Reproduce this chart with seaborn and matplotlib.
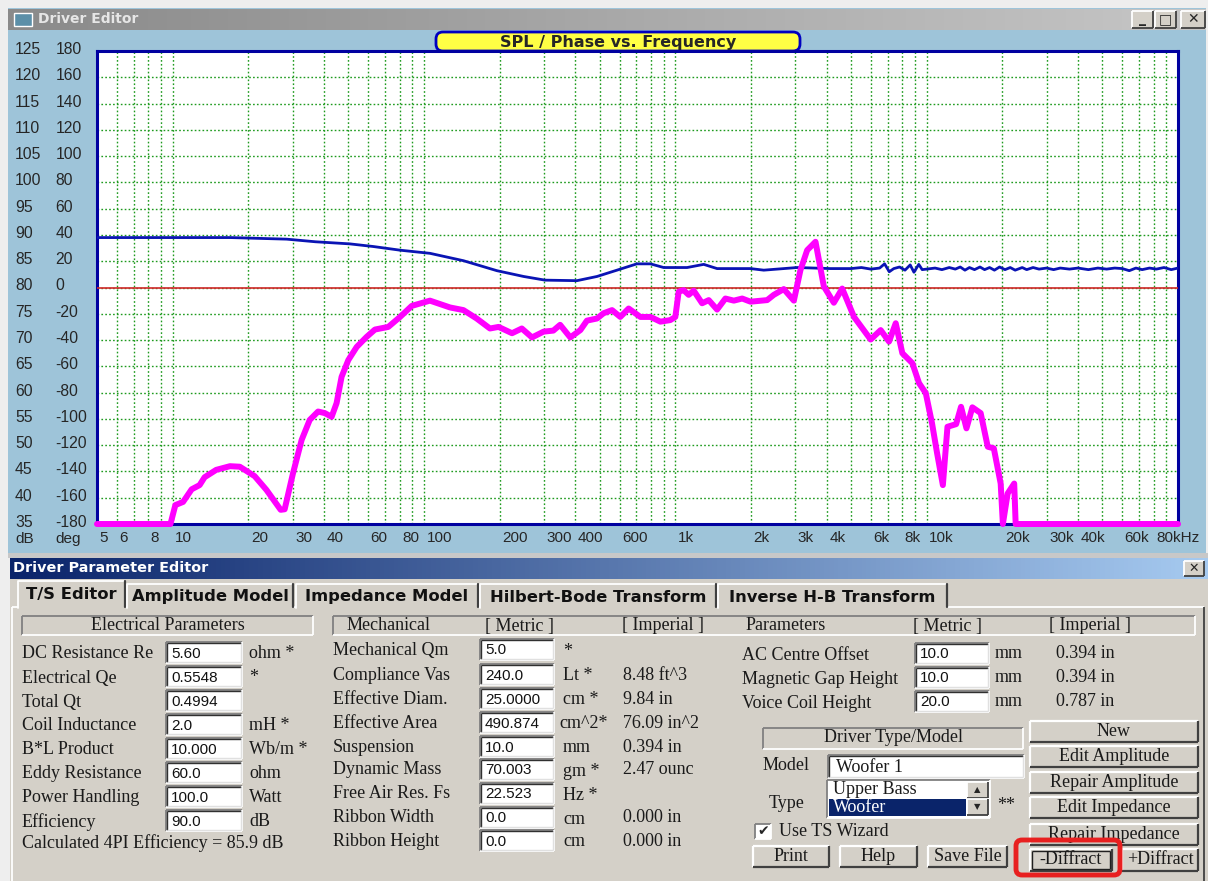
import numpy as np
import matplotlib
matplotlib.use("Agg")
import matplotlib.pyplot as plt
import matplotlib.transforms as mtransforms
from matplotlib.patches import Rectangle, FancyBboxPatch
from matplotlib.colors import LinearSegmentedColormap
from matplotlib.ticker import LogLocator, NullFormatter
import seaborn as sns

# SPL curve (magenta): frequency in Hz, level in dB
spl_freq = [5, 9.8, 10.25, 11.0, 11.9, 12.8, 13.4, 14.9, 16.9, 18.5, 21.2, 23.6, 26.9, 27.9,
            30.1, 32.6, 35.1, 37.9, 40.3, 42.9, 44.9, 47.0, 50, 54, 59.1, 63.8, 72.1, 80.3,
            89.4, 105.6, 127, 143.5, 162, 183, 198, 224, 245, 269, 299, 327, 348, 382, 419,
            445, 488, 518, 560, 604, 652, 726, 796, 872, 955, 1000, 1031, 1079, 1130, 1183,
            1278, 1358, 1466, 1582, 1709, 1845, 1991, 2319, 2464, 2701, 2962, 3146, 3346, 3612,
            3898, 4273, 4613, 5140, 5985, 6562, 7083, 7532, 8002, 8770, 9326, 9919, 10500,
            11000, 11600, 12100, 13100, 13700, 14400, 15200, 16400, 17500, 18500, 19700,
            20100, 21000, 22300, 22600, 100000]
spl_db = [35, 35, 38.6, 39.2, 41.6, 42.4, 43.9, 45.3, 46.0, 45.9, 44.1, 41.5, 37.7, 37.8,
          44.6, 51.0, 54.8, 56.4, 56.1, 55.4, 58.0, 63.0, 66.2, 68.7, 70.6, 72.0, 72.5, 74.4,
          76.5, 77.5, 76.2, 75.7, 74.1, 72.2, 72.5, 71.3, 72.2, 70.5, 71.6, 71.8, 72.9, 70.5, 71.9,
          73.7, 74.1, 75.1, 75.7, 74.4, 76.0, 74.4, 74.4, 73.5, 73.8, 74.4, 79.2, 79.5, 78.6, 79.4,
          77.0, 77.6, 75.8, 77.9, 77.5, 77.9, 77.3, 77.6, 78.6, 79.7, 77.5, 83.3, 87.1, 88.7,
          80.2, 77.1, 79.8, 74.4, 70.1, 71.9, 69.7, 73.2, 67.5, 65.6, 61.8, 59.9, 54.2,
          48.5, 42.4, 53.5, 54.0, 57.3, 53.2, 57.2, 56.1, 49.7, 49.4, 42.7,
          35, 40.8, 42.7, 35, 35]

# phase curve (blue): frequency in Hz, phase in degrees
phase_freq = [5, 17, 28.4, 37, 50.7, 62.8, 80.3, 105.7, 143.5, 195, 249, 303, 406, 488, 586,
              703, 796, 899, 1114, 1297, 1466, 1991, 2248, 3054, 4147, 5000, 5500, 6000, 6500,
              6800, 7100, 7400, 7800, 8200, 8600, 8900, 9300, 9600, 10000, 10800, 11500, 12300,
              13000, 13600, 14200, 14800, 15500, 16300, 17000, 17800, 18600, 19500, 20500,
              21500, 22500, 24000, 25000, 26500, 28000, 30000, 32000, 34000, 37000, 40000,
              44000, 48000, 52000, 56000, 60000, 64000, 68000, 72000, 77000, 82000, 88000,
              94000, 100000]
phase_deg = [38, 38, 36.8, 34.8, 33.2, 31.2, 28.4, 26, 20.4, 12.8, 8.4, 5.6, 5.2, 8.4, 13.2,
             18, 18, 15.2, 15.2, 17.6, 14.4, 14.4, 13.2, 15.2, 14.4, 14.4, 15.2, 14.0, 14.8,
             18.0, 12.0, 14.4, 15.6, 13.2, 17.2, 11.6, 17.6, 13.6, 14.0, 14.8, 13.6, 15.2,
             14.0, 15.6, 13.2, 15.2, 13.6, 15.6, 13.6, 15.2, 13.2, 15.6, 13.6,
             15.2, 13.2, 15.2, 13.6, 15.2, 14.0, 14.8, 13.6, 14.8, 14.0, 14.8,
             13.6, 14.8, 14.0, 14.8, 14.4, 12.8, 14.8, 13.6, 14.8, 14.0, 15.2,
             13.6, 14.8]

# axis ticks
freq_ticks = [5, 6, 8, 10, 20, 30, 40, 60, 80, 100, 200, 300, 400, 600, 1000, 2000, 3000,
              4000, 6000, 8000, 10000, 20000, 30000, 40000, 60000, 80000]
freq_labels = ["5", "6", "8", "10", "20", "30", "40", "60", "80", "100", "200", "300", "400",
               "600", "1k", "2k", "3k", "4k", "6k", "8k", "10k", "20k", "30k", "40k", "60k", "80kHz"]
db_ticks = list(range(35, 126, 5))
deg_ticks = list(range(-180, 181, 20))

# parameter editor texts
tabs = ["T/S Editor", "Amplitude Model", "Impedance Model", "Hilbert-Bode Transform",
        "Inverse H-B Transform"]
elec_labels = ["DC Resistance Re", "Electrical Qe", "Total Qt", "Coil Inductance",
               "B*L Product", "Eddy Resistance", "Power Handling", "Efficiency"]
elec_values = ["5.60", "0.5548", "0.4994", "2.0", "10.000", "60.0", "100.0", "90.0"]
elec_units = ["ohm *", "*", "", "mH *", "Wb/m *", "ohm", "Watt", "dB"]
mech_labels = ["Mechanical Qm", "Compliance Vas", "Effective Diam.", "Effective Area",
               "Suspension", "Dynamic Mass", "Free Air Res. Fs", "Ribbon Width", "Ribbon Height"]
mech_values = ["5.0", "240.0", "25.0000", "490.874", "10.0", "70.003", "22.523", "0.0", "0.0"]
mech_units = ["*", "Lt *", "cm *", "cm^2*", "mm", "gm *", "Hz *", "cm", "cm"]
mech_imperial = ["", "8.48 ft^3", "9.84 in", "76.09 in^2", "0.394 in", "2.47 ounc", "",
                 "0.000 in", "0.000 in"]
geo_labels = ["AC Centre Offset", "Magnetic Gap Height", "Voice Coil Height"]
geo_values = ["10.0", "10.0", "20.0"]
geo_imperial = ["0.394 in", "0.394 in", "0.787 in"]
side_buttons = ["New", "Edit Amplitude", "Repair Amplitude", "Edit Impedance", "Repair Impedance"]

W, H = 1208, 881
SERIF = "Liberation Serif"
SANS = "Liberation Sans"
PANEL = "#D4D0C8"
FORM_SIZE = 13

sns.set_style("white")
plt.rcParams["font.family"] = ["DejaVu Sans"]

fig = plt.figure(figsize=(W / 100, H / 100), dpi=100)
fig.patch.set_facecolor("#EEEEEE")

# background axes in pixel coordinates for the window chrome
bg = fig.add_axes([0, 0, 1, 1], zorder=0)
bg.set_xlim(0, W)
bg.set_ylim(H, 0)
bg.axis("off")


def rect(x0, y0, x1, y1, fc, ec="none", lw=0, z=1):
    bg.add_patch(Rectangle((x0, y0), x1 - x0, y1 - y0, facecolor=fc, edgecolor=ec, lw=lw, zorder=z))


def bevel(x0, y0, x1, y1, light, dark, z=2, lw=1.3):
    bg.plot([x0, x1], [y0, y0], color=light, lw=lw, zorder=z, solid_capstyle="butt")
    bg.plot([x0, x0], [y0, y1], color=light, lw=lw, zorder=z, solid_capstyle="butt")
    bg.plot([x0, x1], [y1, y1], color=dark, lw=lw, zorder=z, solid_capstyle="butt")
    bg.plot([x1, x1], [y0, y1], color=dark, lw=lw, zorder=z, solid_capstyle="butt")


def gradient(x0, y0, x1, y1, c0, c1):
    cmap = LinearSegmentedColormap.from_list("g", [c0, c1])
    bg.imshow(np.linspace(0, 1, 256)[None, :], extent=(x0, x1, y1, y0), cmap=cmap,
              aspect="auto", zorder=1)


def label(x, y, s, **kw):
    opts = dict(fontsize=FORM_SIZE, family=SERIF, va="center", ha="left", color="#1A1A1A", zorder=4)
    opts.update(kw)
    bg.text(x, y, s, **opts)


def field(x0, y0, x1, y1, s):
    rect(x0, y0, x1, y1, "white", z=2)
    bevel(x0, y0, x1, y1, "#808080", "white", z=3)
    bevel(x0 + 1.2, y0 + 1.2, x1 - 1.2, y1 - 1.2, "#303030", "#E0E0E0", z=3, lw=1)
    bg.text(x0 + 5, (y0 + y1) / 2 + 1, s, fontsize=11, family=SANS, va="center", ha="left",
            color="#111111", zorder=4)


def button(x0, y0, x1, y1, s):
    rect(x0, y0, x1, y1, PANEL, z=2)
    bevel(x0, y0, x1, y1, "white", "#404040", z=3, lw=1.6)
    label((x0 + x1) / 2, (y0 + y1) / 2, s, ha="center")


def header(x0, y0, x1, y1):
    bevel(x0, y0, x1, y1, "#808080", "white", z=3)


# ---- top window: Driver Editor ----
rect(8, 8, 1206, 553, "#9EC4D9")
gradient(8, 9, 1206, 30, "#8A8A8A", "#C6C6C6")
rect(14, 13, 32, 26, "#5B8FA8", ec="white", lw=1, z=3)
bg.text(38, 19, "Driver Editor", fontsize=10, weight="bold", color="#E6E6E6", va="center", zorder=4)
for x0, x1, s in [(1132, 1153, "_"), (1155, 1176, "□"), (1181, 1205, "✕")]:
    rect(x0, 11, x1, 28, PANEL, z=3)
    bevel(x0, 11, x1, 28, "white", "#404040", z=4)
    bg.text((x0 + x1) / 2, 19.5, s, fontsize=10, weight="bold", ha="center", va="center", zorder=5)

bg.add_patch(FancyBboxPatch((436, 32), 364, 19, boxstyle="round,pad=0,rounding_size=7",
                            facecolor="#FFFF44", edgecolor="#0000C0", lw=2, zorder=3))
bg.text(618, 42, "SPL / Phase vs. Frequency", fontsize=11.5, weight="bold", ha="center",
        va="center", zorder=4)

# ---- chart ----
ax = fig.add_axes([97 / W, 1 - 524 / H, 1081 / W, 473 / H], zorder=2)
ax.set_facecolor("white")
ax.set_xscale("log")
sns.lineplot(x=phase_freq, y=phase_deg, ax=ax, color="#0A14B4", linewidth=2.0,
             estimator=None, sort=False, zorder=4)
ax.axhline(0, color="#D02828", lw=1.2, zorder=3)
ax.set_xlim(5, 100000)
ax.set_ylim(-180, 180)

ax2 = ax.twinx()
sns.lineplot(x=spl_freq, y=spl_db, ax=ax2, color="#FF00FF", linewidth=4.3,
             estimator=None, sort=False, clip_on=False, zorder=6)
ax2.set_ylim(35, 125)
ax2.yaxis.tick_left()

ax.set_xticks(freq_ticks)
ax.set_xticklabels(freq_labels)
ax.xaxis.set_minor_locator(LogLocator(base=10, subs=np.arange(1, 10), numticks=200))
ax.xaxis.set_minor_formatter(NullFormatter())
ax.set_yticks(deg_ticks)
ax.set_yticklabels([str(v) for v in deg_ticks])
ax2.set_yticks(db_ticks)
ax2.set_yticklabels([str(v) for v in db_ticks])
ax.set_xlabel("")
ax.set_ylabel("")
ax2.set_ylabel("")

ax.grid(True, which="both", axis="x", color="#1E9A1E", linestyle=(0, (1.2, 1.6)), lw=1.0)
ax.grid(True, which="major", axis="y", color="#1E9A1E", linestyle=(0, (1.2, 1.6)), lw=1.0)
ax.set_axisbelow(True)

ax.tick_params(axis="x", which="both", length=0, pad=5, labelsize=11)
ax.tick_params(axis="y", length=0, pad=30, labelsize=11.3)
ax2.tick_params(axis="y", length=0, pad=59, labelsize=11.3)

up = mtransforms.ScaledTranslation(0, 0.03, fig.dpi_scale_trans)
right = mtransforms.ScaledTranslation(0.025, 0, fig.dpi_scale_trans)
for lab in ax.get_yticklabels() + ax2.get_yticklabels():
    lab.set_ha("left")
    lab.set_family(SANS)
    lab.set_transform(lab.get_transform() + up)
for lab in ax.get_xticklabels():
    lab.set_ha("left")
    lab.set_family(SANS)
    lab.set_transform(lab.get_transform() + right)

for side in ["left", "right", "top", "bottom"]:
    ax.spines[side].set_color("#0000A0")
    ax.spines[side].set_linewidth(2.2)
    ax2.spines[side].set_visible(False)

bg.text(15, 539, "dB", fontsize=11, family=SANS, va="center", zorder=4)
bg.text(55, 539, "deg", fontsize=11, family=SANS, va="center", zorder=4)

# ---- lower window: Driver Parameter Editor ----
rect(8, 553, 1208, 558, "#C8C8C8")
rect(10, 578, 1208, 881, PANEL)
gradient(10, 558, 1208, 579, "#0A246A", "#A6CAF0")
bg.text(13, 568, "Driver Parameter Editor", fontsize=10.4, weight="bold", color="white",
        va="center", zorder=4)
rect(1184, 561, 1204, 576, PANEL, z=3)
bevel(1184, 561, 1204, 576, "white", "#404040", z=4)
bg.text(1194, 568.5, "✕", fontsize=9, weight="bold", ha="center", va="center", zorder=5)

# tab body frame
bevel(12, 607, 1204, 885, "white", "#404040", z=2)

tab_x = [(18, 125), (127, 293), (296, 478), (480, 716), (718, 947)]
for i, ((x0, x1), s) in enumerate(zip(tab_x, tabs)):
    y0 = 581 if i == 0 else 584
    rect(x0, y0, x1, 608, PANEL, z=2)
    bg.plot([x0, x0, x1], [608, y0, y0], color="white", lw=1.3, zorder=3)
    bg.plot([x1, x1], [y0, 607], color="#404040", lw=1.6, zorder=3)
    bg.text((x0 + x1) / 2, 595 if i == 0 else 597, s, fontsize=11.8, weight="bold",
            ha="center", va="center", color="#111111", zorder=4)

# electrical parameters
header(22, 616, 313, 635)
label(168, 626, "Electrical Parameters", ha="center")
for i, (lab, val, unit) in enumerate(zip(elec_labels, elec_values, elec_units)):
    y0 = 642 + 24 * i
    label(22, y0 + 12, lab)
    field(166, y0, 242, y0 + 21, val)
    label(249, y0 + 11, unit)
label(22, 843, "Calculated 4PI Efficiency = 85.9 dB")

# mechanical parameters
header(333, 616, 1195, 635)
label(347, 626, "Mechanical")
label(485, 626, "[ Metric ]")
label(622, 626, "[ Imperial ]")
label(746, 626, "Parameters")
label(913, 626, "[ Metric ]")
label(1049, 626, "[ Imperial ]")
mech_y = [639, 664, 688, 712, 736, 759, 783, 807, 830]
for y0, lab, val, unit, imp in zip(mech_y, mech_labels, mech_values, mech_units, mech_imperial):
    label(333, y0 + 11, lab)
    field(480, y0, 554, y0 + 21, val)
    label(559 if unit == "cm^2*" else 563, y0 + 12, unit)
    label(623, y0 + 11, imp)

for i, (lab, val, imp) in enumerate(zip(geo_labels, geo_values, geo_imperial)):
    y0 = 643 + 24 * i
    label(742, y0 + 12, lab)
    field(915, y0, 989, y0 + 21, val)
    label(995, y0 + 11, "mm")
    label(1056, y0 + 11, imp)

# driver type / model
header(763, 728, 1023, 749)
label(893, 738, "Driver Type/Model", ha="center")
label(763, 766, "Model")
field(828, 755, 1024, 778, "")
label(836, 767, "Woofer 1")
label(769, 803, "Type")
rect(827, 780, 990, 818, "white", z=2)
bevel(827, 780, 990, 818, "#808080", "white", z=3)
label(833, 790, "Upper Bass")
rect(829, 799, 966, 816, "#0A246A", z=3)
label(833, 808, "Woofer", color="white")
for y0, s in [(782, "▲"), (799, "▼")]:
    rect(967, y0, 988, y0 + 16, PANEL, z=3)
    bevel(967, y0, 988, y0 + 16, "white", "#404040", z=4)
    bg.text(977.5, y0 + 8, s, fontsize=6, ha="center", va="center", zorder=5)
label(997, 805, "**")

rect(755, 824, 771, 839, "white", z=2)
bevel(755, 824, 771, 839, "#808080", "white", z=3)
bg.text(763, 831.5, "✔", fontsize=10, ha="center", va="center", zorder=4)
label(779, 832, "Use TS Wizard")

for i, s in enumerate(side_buttons):
    y0 = [721, 746, 772, 797, 824][i]
    button(1030, y0, 1198, y0 + 21, s)

button(753, 846, 829, 867, "Print")
button(840, 846, 917, 867, "Help")
button(928, 846, 1007, 867, "Save File")
button(1030, 849, 1112, 871, "-Diffract")
bevel(1032, 851, 1110, 869, "#202020", "#202020", z=3, lw=1)
button(1122, 849, 1198, 871, "+Diffract")

bg.add_patch(FancyBboxPatch((1016, 840), 104, 35, boxstyle="round,pad=0,rounding_size=6",
                            facecolor="none", edgecolor="#E82020", lw=3.5, zorder=6))

fig.savefig("out.png", dpi=100, facecolor=fig.get_facecolor())
